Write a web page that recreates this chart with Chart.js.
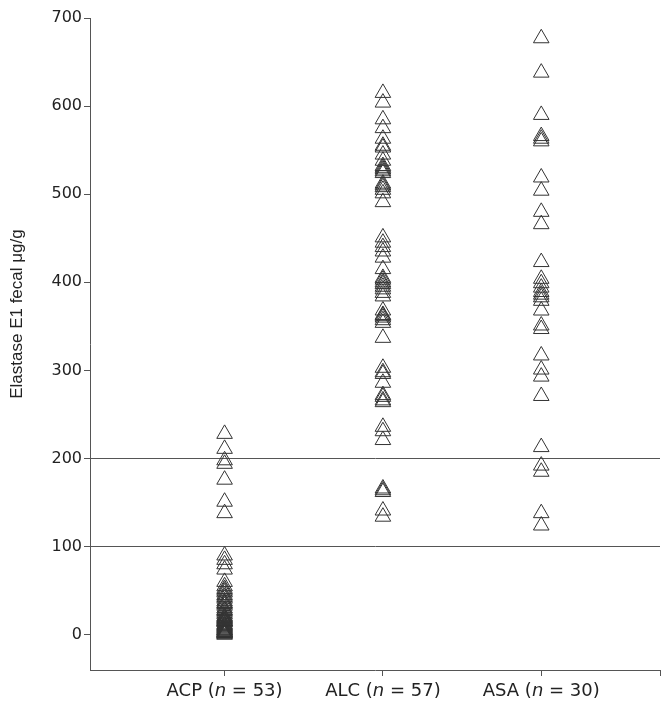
<!DOCTYPE html>
<html>
<head>
<meta charset="utf-8">
<script src="https://cdn.jsdelivr.net/npm/chart.js@4/dist/chart.umd.min.js"></script>
<style>
  body { margin: 0; background: #fff; }
  #wrap { width: 671px; height: 712px; }
</style>
</head>
<body>
<div id="wrap"><canvas id="elastaseChart"></canvas></div>
<script>
// groups on the x axis and their n
var groups = ["ACP", "ALC", "ASA"];
var counts = [53, 57, 30];

// elastase E1 values (ug/g)
var acpValues = [228, 211, 198, 194, 176, 151, 138, 90, 85, 80, 74,
    60, 55, 52, 50, 48, 45, 43, 41, 38, 36, 35, 33, 30, 28, 27, 25, 23, 21, 20, 19,
    18, 17, 16, 15, 14, 12, 11, 10, 9, 8, 7, 6, 5, 5, 4, 3, 3, 2, 2, 1, 0, 15];
var alcValues = [615, 604, 585, 575, 563, 553, 545, 538, 532, 530, 528, 526, 524, 512, 508,
    505, 501, 491, 451, 445, 440, 435, 428, 415, 405, 400, 398, 395, 392, 388, 384, 368,
    363, 360, 357, 354, 337, 303, 298, 296, 286, 272, 266, 264, 236, 231, 221, 166, 164,
    162, 141, 134, 555, 510, 403, 362, 270];
var asaValues = [677, 638, 590, 566, 563, 560, 519, 504, 480, 466, 423, 404, 399, 394, 389,
    386, 383, 379, 368, 351, 347, 317, 301, 293, 271, 213, 192, 185, 138, 124];

var yTicks = [0, 100, 200, 300, 400, 500, 600, 700];
var refLines = [100, 200];
var yTitle = "Elastase E1 fecal \u03bcg/g";

var axisColor = "#555";
var font = "DejaVu Sans";

function toPoints(values, pos) {
    return values.map(function (v) { return {x: pos, y: v}; });
}

var allValues = [acpValues, alcValues, asaValues];
var datasets = allValues.map(function (vals, i) {
    return {
        label: groups[i],
        data: toPoints(vals, i + 1),
        pointStyle: "triangle",
        pointRadius: 9,
        pointHoverRadius: 9,
        borderWidth: 1,
        borderColor: "#333",
        backgroundColor: "rgba(0,0,0,0)"
    };
});

// x labels with an italic n, and the rotated y title
var labelPlugin = {
    id: "labels",
    afterDraw: function (chart) {
        var ctx = chart.ctx;
        var xs = chart.scales.x;
        var ys = chart.scales.y;
        ctx.save();
        ctx.fillStyle = "#222";
        ctx.textBaseline = "middle";
        groups.forEach(function (g, i) {
            var parts = [
                {t: g + " (", f: "18px " + font},
                {t: "n", f: "italic 18px " + font},
                {t: " = " + counts[i] + ")", f: "18px " + font}
            ];
            var w = 0;
            parts.forEach(function (p) { ctx.font = p.f; w += ctx.measureText(p.t).width; });
            var x = xs.getPixelForValue(i + 1) - w / 2;
            var y = xs.bottom - 21;
            parts.forEach(function (p) {
                ctx.font = p.f;
                ctx.textAlign = "left";
                ctx.fillText(p.t, x, y);
                x += ctx.measureText(p.t).width;
            });
        });
        ctx.translate(17, ys.getPixelForValue(364));
        ctx.rotate(-Math.PI / 2);
        ctx.font = "17px 'Liberation Sans'";
        ctx.textAlign = "center";
        ctx.fillText(yTitle, 0, 0);
        ctx.restore();
    }
};

var elastaseChart = new Chart(document.getElementById("elastaseChart"), {
    "type": "scatter",
    "data": {"datasets": datasets},
    "options": {
        "responsive": true,
        "maintainAspectRatio": false,
        "animation": false,
        "layout": {"padding": {"top": 18, "right": 11, "bottom": 0, "left": 0}},
        "plugins": {"legend": {"display": false}, "tooltip": {"enabled": false}},
        "scales": {
            "x": {
                "type": "linear",
                "min": 0.15,
                "max": 3.75,
                "afterBuildTicks": function (scale) {
                    scale.ticks = [{value: 1}, {value: 2}, {value: 3}, {value: 3.75}];
                },
                "afterFit": function (scale) { scale.height = 42; },
                "ticks": {"callback": function () { return ""; }},
                "grid": {"drawOnChartArea": false, "drawTicks": true, "tickLength": 6, "tickColor": axisColor},
                "border": {"display": true, "color": axisColor, "width": 1}
            },
            "y": {
                "min": -40,
                "max": 700,
                "afterBuildTicks": function (scale) {
                    scale.ticks = yTicks.map(function (v) { return {value: v}; });
                },
                "afterFit": function (scale) { scale.width = 90; },
                "ticks": {"color": "#222", "font": {"family": font, "size": 16}, "padding": 2},
                "grid": {
                    "color": function (c) {
                        return c.tick && refLines.indexOf(c.tick.value) >= 0 ? axisColor : "rgba(0,0,0,0)";
                    },
                    "tickColor": axisColor,
                    "tickLength": 6,
                    "lineWidth": 1
                },
                "border": {"display": true, "color": axisColor, "width": 1}
            }
        }
    },
    "plugins": [labelPlugin]
});
</script>
</body>
</html>
